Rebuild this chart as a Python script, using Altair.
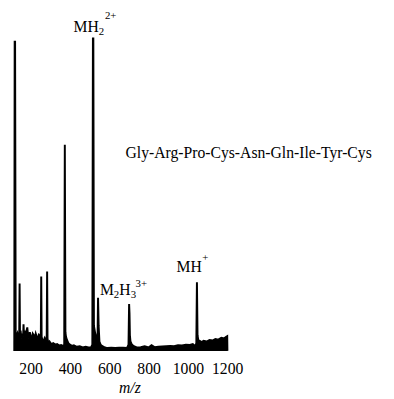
import altair as alt
import pandas as pd

# ---- spectrum trace (m/z, relative intensity) ----
mz = [117, 119, 121, 124, 128, 133, 138, 142, 144, 146, 149, 153, 158, 162, 164, 166,
      169, 173, 178, 183, 187, 191, 196, 201, 206, 211, 216, 221, 226, 231, 236, 241,
      246, 250, 252, 254, 256, 260, 266, 271, 278, 282, 284, 286, 290, 296, 305, 315,
      325, 335, 345, 355, 365, 371, 374, 377, 380, 385, 392, 400, 410, 420, 435, 450,
      465, 480, 495, 508, 514, 517, 519, 522, 530, 538, 541, 543, 546, 550, 556, 565,
      575, 590, 610, 630, 650, 670, 690, 698, 701, 703, 705, 708, 715, 725, 740, 760,
      780, 800, 815, 830, 850, 870, 890, 910, 930, 950, 970, 990, 1010, 1025, 1038, 1043,
      1046, 1049, 1053, 1060, 1070, 1080, 1095, 1110, 1125, 1140, 1155, 1170, 1185, 1195,
      1200, 1201]
intensity = [0, 99, 99, 6, 4.5, 5.5, 4, 4.5, 21.6, 4.5, 6.5, 4, 5.5, 4.5, 8.5, 5.5,
             6.5, 4.5, 6, 7.5, 5, 4, 6, 4.5, 3.5, 5.5, 5, 4, 5.5, 4.5, 3.5, 5,
             4.5, 5.5, 4, 23.8, 4.5, 3.5, 3, 4, 3, 5, 25.4, 4, 2.5, 3, 2.2, 2.5,
             2, 2.2, 1.7, 1.9, 1.6, 2, 66, 6, 4.5, 3.5, 2.5, 2, 1.6, 1.8, 1.3, 1.5,
             1.1, 1.3, 1.1, 1.2, 2, 100, 100, 8, 5, 4, 6, 17, 8, 3, 2, 1.5,
             1.2, 0.9, 1, 0.9, 1, 1, 0.9, 2, 15, 12, 5, 3, 2, 1.5, 1.1, 1.2,
             1.5, 1.1, 1.8, 1.2, 1.3, 1.4, 1.5, 1.6, 1.5, 1.8, 1.7, 2, 1.9, 2.2, 1.5, 2.5,
             22, 5, 3.4, 3.2, 2.8, 3.2, 3, 3.5, 3.3, 3.8, 3.6, 4.2, 4, 4.5,
             4.7, 0]

tick_values = [200, 400, 600, 800, 1000, 1200]

# ---- annotations (normal-size pieces) ----
big_text = ["MH", "M", "H", "MH", "Gly-Arg-Pro-Cys-Asn-Gln-Ile-Tyr-Cys"]
big_mz = [418.8, 553.4, 651, 942, 683]
big_int = [102.2, 17.9, 17.9, 25.4, 61.8]

# ---- annotations (sub/superscript pieces) ----
small_text = ["2", "2+", "2", "3", "3+", "+"]
small_mz = [546, 578, 623, 709, 734, 1073]
small_int = [101.3, 106.3, 16.9, 16.9, 20.4, 28.8]

spec = pd.DataFrame({"mz": mz, "intensity": intensity})
big = pd.DataFrame({"mz": big_mz, "intensity": big_int, "label": big_text})
small = pd.DataFrame({"mz": small_mz, "intensity": small_int, "label": small_text})

FONT = "Liberation Serif"

x = alt.X(
    "mz:Q",
    scale=alt.Scale(domain=[85, 1928], nice=False, zero=False),
    axis=alt.Axis(
        values=tick_values, format="d", title="m/z", grid=False, domain=False,
        ticks=False, tickSize=0, labelPadding=10, labelFont=FONT, labelFontSize=16,
        labelColor="black", titleFont=FONT, titleFontSize=16,
        titleFontStyle="italic", titleFontWeight="normal", titleColor="black",
        titleX=124, titleY=42, titleAlign="center", titleBaseline="alphabetic",
    ),
)
y = alt.Y("intensity:Q", scale=alt.Scale(domain=[0, 108.5], nice=False), axis=None)

area = alt.Chart(spec).mark_area(color="black", interpolate="linear").encode(x=x, y=y)
line = alt.Chart(spec).mark_line(color="black", strokeWidth=2).encode(x=x, y=y)

big_layer = alt.Chart(big).mark_text(
    font=FONT, fontSize=16, align="left", baseline="alphabetic", color="black"
).encode(x=x, y=y, text="label:N")

small_layer = alt.Chart(small).mark_text(
    font=FONT, fontSize=11, align="left", baseline="alphabetic", color="black"
).encode(x=x, y=y, text="label:N")

chart = (
    alt.layer(area, line, big_layer, small_layer)
    .properties(
        width=370, height=346,
        autosize=alt.AutoSizeParams(type="none"),
        padding={"left": 0, "top": 0, "right": 16, "bottom": 45},
        background="white",
    )
    .configure_view(stroke=None)
)

chart.save("out.html", embed_options={"renderer": "svg", "actions": False})
